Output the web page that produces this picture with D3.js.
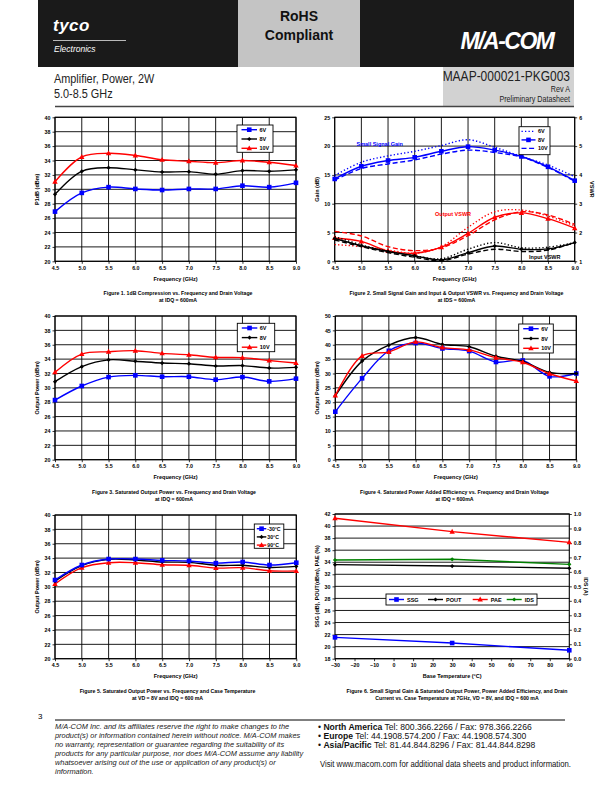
<!DOCTYPE html>
<html>
<head>
<meta charset="utf-8">
<script src="https://cdn.jsdelivr.net/npm/d3@7"></script>
<style>
body { margin: 0; background: #fff; }
</style>
</head>
<body>
<svg id="page" width="612" height="792"></svg>
<script>
// ---- data ----
var freqs = [4.5, 5.0, 5.5, 6.0, 6.5, 7.0, 7.5, 8.0, 8.5, 9.0]
var freqTicks = [4.5, 5.0, 5.5, 6.0, 6.5, 7.0, 7.5, 8.0, 8.5, 9.0]

var p1db6V = [26.9, 29.5, 30.3, 30.05, 29.9, 30.05, 30.05, 30.5, 30.3, 30.9]
var p1db8V = [29.3, 32.5, 33.0, 32.7, 32.4, 32.45, 32.1, 32.6, 32.5, 32.7]
var p1db10V = [31.05, 34.5, 35.0, 34.7, 34.1, 33.9, 33.7, 34.0, 33.75, 33.3]

var gain6V = [14.9, 17.2, 18.3, 19.1, 20.1, 21.1, 19.8, 18.2, 16.7, 14.7]
var gain8V = [14.3, 16.5, 17.5, 18.05, 19.1, 19.9, 19.3, 18.2, 16.4, 14.0]
var gain10V = [14.1, 16.1, 16.9, 17.6, 18.6, 19.3, 18.9, 18.1, 16.3, 13.9]
var outVswr6V = [1.58, 1.51, 1.39, 1.28, 1.51, 2.18, 2.72, 2.78, 2.57, 2.23]
var outVswr8V = [1.81, 1.69, 1.36, 1.28, 1.49, 1.97, 2.53, 2.68, 2.48, 2.15]
var outVswr10V = [2.04, 1.88, 1.51, 1.37, 1.47, 1.89, 2.44, 2.72, 2.61, 2.28]
var inVswr6V = [1.86, 1.57, 1.35, 1.19, 1.09, 1.42, 1.65, 1.47, 1.49, 1.65]
var inVswr8V = [1.79, 1.54, 1.34, 1.19, 1.05, 1.30, 1.53, 1.42, 1.43, 1.65]
var inVswr10V = [1.74, 1.51, 1.30, 1.14, 1.02, 1.25, 1.42, 1.34, 1.39, 1.65]

var psat6V = [28.3, 30.26, 31.5, 31.74, 31.55, 31.55, 31.14, 31.5, 30.9, 31.28]
var psat8V = [30.86, 32.95, 33.9, 33.7, 33.45, 33.36, 33.04, 33.1, 32.76, 32.85]
var psat10V = [32.16, 34.7, 35.03, 35.17, 34.8, 34.6, 34.25, 34.2, 33.8, 33.45]

var pae6V = [16.7, 28.3, 37.9, 40.6, 38.7, 37.8, 34.0, 34.5, 29.0, 30.0]
var pae8V = [22.2, 34.3, 39.9, 42.5, 40.1, 39.3, 36.0, 34.2, 30.4, 30.0]
var pae10V = [22.3, 36.1, 37.5, 41.0, 39.0, 38.2, 35.5, 33.9, 29.9, 27.4]

var psatMinus30C = [30.95, 33.04, 33.87, 33.87, 33.69, 33.6, 33.3, 33.46, 33.04, 33.36]
var psat30C = [30.8, 32.95, 33.83, 33.74, 33.46, 33.41, 33.0, 33.0, 32.7, 32.85]
var psat90C = [30.4, 32.67, 33.36, 33.36, 33.08, 33.0, 32.62, 32.67, 32.25, 32.2]

var temps = [-30, 30, 90]
var tempTicks = [-30, -20, -10, 0, 10, 20, 30, 40, 50, 60, 70, 80, 90]
var ssgT = [21.54, 20.6, 19.4]
var poutT = [33.6, 33.37, 33.0]
var paeT = [41.3, 39.07, 37.3]
var idsT = [0.682, 0.687, 0.652]

var ticks20to40 = [20, 22, 24, 26, 28, 30, 32, 34, 36, 38, 40]
var gainTicks = [0, 5, 10, 15, 20, 25]
var vswrTicks = [1, 2, 3, 4, 5, 6]
var paeTicks = [0, 5, 10, 15, 20, 25, 30, 35, 40, 45, 50]
var fig6Ticks = [18, 20, 22, 24, 26, 28, 30, 32, 34, 36, 38, 40, 42]
var idsTicks = [0, 0.1, 0.2, 0.3, 0.4, 0.5, 0.6, 0.7, 0.8, 0.9, 1.0]

var FONT = '"Liberation Sans", Arial, sans-serif'
var BLUE = '#0000ff', RED = '#ff0000', BLACK = '#000', GREEN = '#008000'

var page = d3.select('#page')

// condensed look for the title block (no narrow face installed)
function narrowText(str, x, y, size, anchor) {
	return page.append('text').text(str)
		.attr('transform', 'translate(' + x + ',' + y + ') scale(0.8,1)')
		.attr('text-anchor', anchor || 'start')
		.attr('font-family', FONT).attr('font-size', size).attr('fill', '#222')
}

// ---- header ----
page.append('rect').attr('x', 38).attr('y', 0).attr('width', 536).attr('height', 67).attr('fill', '#1a1a1a')
page.append('rect').attr('x', 238).attr('y', 0).attr('width', 122).attr('height', 67).attr('fill', '#c4c4c4')
page.append('text').text('tyco').attr('x', 53).attr('y', 31)
	.attr('font-family', FONT).attr('font-size', 17).attr('font-weight', 'bold').attr('font-style', 'italic')
	.attr('fill', '#fff').attr('letter-spacing', 0.5)
page.append('line').attr('x1', 53).attr('x2', 126).attr('y1', 40.5).attr('y2', 40.5).attr('stroke', '#fff').attr('stroke-width', 0.7)
page.append('text').text('Electronics').attr('x', 54).attr('y', 52)
	.attr('font-family', FONT).attr('font-size', 8.5).attr('font-style', 'italic').attr('fill', '#fff')
page.append('text').text('RoHS').attr('x', 299).attr('y', 21).attr('text-anchor', 'middle')
	.attr('font-family', FONT).attr('font-size', 14).attr('font-weight', 'bold').attr('fill', '#111')
page.append('text').text('Compliant').attr('x', 299).attr('y', 40).attr('text-anchor', 'middle')
	.attr('font-family', FONT).attr('font-size', 14).attr('font-weight', 'bold').attr('fill', '#111')
page.append('text').text('M/A-COM').attr('x', 507).attr('y', 49).attr('text-anchor', 'middle')
	.attr('font-family', FONT).attr('font-size', 23).attr('font-weight', 'bold').attr('font-style', 'italic')
	.attr('fill', '#fff').attr('letter-spacing', -1.5)

page.append('rect').attr('x', 443).attr('y', 67).attr('width', 131).attr('height', 39).attr('fill', '#d2d2d2')
narrowText('Amplifier, Power, 2W', 54, 82.5, 13.6)
narrowText('5.0-8.5 GHz', 54, 97.5, 13.6)
narrowText('MAAP-000021-PKG003', 570, 81, 15, 'end')
narrowText('Rev A', 570, 91.5, 9, 'end')
narrowText('Preliminary Datasheet', 570, 102, 9, 'end')
page.append('line').attr('x1', 55).attr('x2', 574).attr('y1', 106.5).attr('y2', 106.5).attr('stroke', '#444').attr('stroke-width', 1.5)

// ---- chart helpers ----
function marker(g, type, cx, cy, color) {
	if (type === 'square') {
		g.append('rect').attr('x', cx - 2.3).attr('y', cy - 2.3).attr('width', 4.6).attr('height', 4.6).attr('fill', color)
	} else if (type === 'tri') {
		g.append('path').attr('d', 'M' + cx + ',' + (cy - 2.9) + 'L' + (cx + 2.7) + ',' + (cy + 2) + 'L' + (cx - 2.7) + ',' + (cy + 2) + 'Z').attr('fill', color)
	} else if (type === 'diamond') {
		g.append('path').attr('d', 'M' + cx + ',' + (cy - 2.1) + 'L' + (cx + 2.1) + ',' + cy + 'L' + cx + ',' + (cy + 2.1) + 'L' + (cx - 2.1) + ',' + cy + 'Z').attr('fill', color)
	}
}

var DASH = {solid: null, dot: '1.3,2.2', dash: '5,2.6'}

function drawLegend(g, lg) {
	g.append('rect').attr('x', lg.x).attr('y', lg.y).attr('width', lg.w).attr('height', lg.h)
		.attr('fill', '#fff').attr('stroke', '#000').attr('stroke-width', 0.9)
	var pad = lg.pad || 4.5, len = lg.len || 15.5
	lg.items.forEach(function(it, i) {
		var cy, x1, x2, tx
		if (lg.horizontal) {
			cy = lg.y + lg.h / 2
			x1 = lg.x + lg.offsets[i]
			x2 = x1 + 15
			tx = x2 + 3
		} else {
			cy = lg.y + 4.7 + i * lg.row
			x1 = lg.x + pad
			x2 = x1 + len
			tx = x2 + (lg.gap || 2.5)
		}
		g.append('line').attr('x1', x1).attr('x2', x2).attr('y1', cy).attr('y2', cy)
			.attr('stroke', it.color).attr('stroke-width', 1.4).attr('stroke-dasharray', DASH[it.dash || 'solid'])
		if (it.marker) marker(g, it.marker, (x1 + x2) / 2, cy, it.color)
		g.append('text').text(it.label).attr('x', tx).attr('y', cy + 2)
			.attr('font-family', FONT).attr('font-size', lg.size || 5.5).attr('font-weight', 'bold')
	})
}

function drawChart(c) {
	var g = page.append('g')
	var x = d3.scaleLinear().domain(c.xDomain).range([c.left, c.right])
	var y = d3.scaleLinear().domain(c.yDomain).range([c.bottom, c.top])
	var y2 = c.y2Domain ? d3.scaleLinear().domain(c.y2Domain).range([c.bottom, c.top]) : null

	g.selectAll('line.hgrid').data(c.yTicks).enter().append('line')
		.attr('x1', c.left).attr('x2', c.right)
		.attr('y1', function(d) { return y(d) }).attr('y2', function(d) { return y(d) })
		.attr('stroke', '#000').attr('stroke-width', 0.9)
	if (c.vgrid) {
		g.selectAll('line.vgrid').data(c.xTicks).enter().append('line')
			.attr('y1', c.top).attr('y2', c.bottom)
			.attr('x1', function(d) { return x(d) }).attr('x2', function(d) { return x(d) })
			.attr('stroke', '#000').attr('stroke-width', 0.9)
	}
	g.append('rect').attr('x', c.left).attr('y', c.top).attr('width', c.right - c.left).attr('height', c.bottom - c.top)
		.attr('fill', 'none').attr('stroke', '#000').attr('stroke-width', 1.1)

	g.append('g').attr('transform', 'translate(0,' + c.bottom + ')')
		.call(d3.axisBottom(x).tickValues(c.xTicks).tickSize(2.5).tickPadding(2).tickFormat(c.xFormat))
	g.append('g').attr('transform', 'translate(' + c.left + ',0)')
		.call(d3.axisLeft(y).tickValues(c.yTicks).tickSize(2.5).tickPadding(2).tickFormat(c.yFormat))
	if (y2) {
		g.append('g').attr('transform', 'translate(' + c.right + ',0)')
			.call(d3.axisRight(y2).tickValues(c.y2Ticks).tickSize(2.5).tickPadding(2).tickFormat(c.y2Format))
	}
	g.selectAll('.domain').remove()
	g.selectAll('.tick line').attr('stroke', '#000').attr('stroke-width', 0.8)
	g.selectAll('.tick text').attr('font-family', FONT).attr('font-size', 5.3).attr('font-weight', 'bold').attr('fill', '#000')

	// series
	c.series.forEach(function(s) {
		var ys = s.right ? y2 : y
		var line = d3.line()
			.x(function(d, i) { return x(s.xs[i]) })
			.y(function(d) { return ys(d) })
			.curve(c.smooth ? d3.curveCatmullRom.alpha(0.5) : d3.curveLinear)
		g.append('path').datum(s.values).attr('d', line)
			.attr('fill', 'none').attr('stroke', s.color).attr('stroke-width', s.width || 1.4)
			.attr('stroke-dasharray', DASH[s.dash || 'solid'])
		if (s.marker) {
			s.values.forEach(function(v, i) { marker(g, s.marker, x(s.xs[i]), ys(v), s.color) })
		}
	})

	if (c.notes) {
		c.notes.forEach(function(n) {
			g.append('text').text(n.text).attr('x', n.x).attr('y', n.y)
				.attr('font-family', FONT).attr('font-size', 5.5).attr('font-weight', 'bold').attr('fill', n.color)
		})
	}
	if (c.legend) drawLegend(g, c.legend)

	var tstyle = function(t) { t.attr('font-family', FONT).attr('font-size', 5.5).attr('font-weight', 'bold') }
	g.append('text').text(c.xTitle).attr('x', (c.left + c.right) / 2).attr('y', c.bottom + 19.5)
		.attr('text-anchor', 'middle').call(tstyle)
	g.append('text').text(c.yTitle).attr('text-anchor', 'middle').call(tstyle)
		.attr('transform', 'translate(' + (c.left - 16) + ',' + ((c.top + c.bottom) / 2) + ') rotate(-90)')
	if (c.y2Title) {
		g.append('text').text(c.y2Title).attr('text-anchor', 'middle').call(tstyle)
			.attr('transform', 'translate(' + (c.right + 15) + ',' + ((c.top + c.bottom) / 2) + ') rotate(90)')
	}
	c.caption.forEach(function(line, i) {
		g.append('text').text(line).attr('x', c.captionX).attr('y', c.bottom + 34 + i * 7)
			.attr('text-anchor', 'middle').attr('font-family', FONT).attr('font-size', 5.2).attr('font-weight', 'bold')
	})
}

var f1 = d3.format('.1f'), f0 = d3.format('d')
var voltageLegend = [
	{label: '6V', color: BLUE, marker: 'square'},
	{label: '8V', color: BLACK, marker: 'diamond'},
	{label: '10V', color: RED, marker: 'tri'}
]

// Figure 1
drawChart({
	left: 55, right: 296, top: 117.3, bottom: 261.3,
	xDomain: [4.5, 9.0], yDomain: [20, 40], xTicks: freqTicks, yTicks: ticks20to40,
	xFormat: f1, yFormat: f0, vgrid: true, smooth: true,
	series: [
		{xs: freqs, values: p1db6V, color: BLUE, marker: 'square'},
		{xs: freqs, values: p1db8V, color: BLACK, marker: 'diamond'},
		{xs: freqs, values: p1db10V, color: RED, marker: 'tri'}
	],
	legend: {x: 237, y: 125, w: 36, h: 27.3, row: 9.3, items: voltageLegend},
	xTitle: 'Frequency (GHz)', yTitle: 'P1dB (dBm)',
	captionX: 178,
	caption: ['Figure 1. 1dB Compression vs. Frequency and Drain Voltage', 'at IDQ = 600mA']
})

// Figure 2
drawChart({
	left: 334.7, right: 574.7, top: 117.3, bottom: 261.3,
	xDomain: [4.5, 9.0], yDomain: [0, 25], y2Domain: [1, 6],
	xTicks: freqTicks, yTicks: gainTicks, y2Ticks: vswrTicks,
	xFormat: f1, yFormat: f0, y2Format: f0, vgrid: true, smooth: true,
	series: [
		{xs: freqs, values: gain6V, color: BLUE, dash: 'dot'},
		{xs: freqs, values: gain10V, color: BLUE, dash: 'dash'},
		{xs: freqs, values: gain8V, color: BLUE, marker: 'square'},
		{xs: freqs, values: outVswr6V, color: RED, dash: 'dot', right: true},
		{xs: freqs, values: outVswr10V, color: RED, dash: 'dash', right: true},
		{xs: freqs, values: outVswr8V, color: RED, marker: 'tri', right: true},
		{xs: freqs, values: inVswr6V, color: BLACK, dash: 'dot', right: true},
		{xs: freqs, values: inVswr10V, color: BLACK, dash: 'dash', right: true},
		{xs: freqs, values: inVswr8V, color: BLACK, marker: 'diamond', right: true}
	],
	notes: [
		{text: 'Small Signal Gain', x: 356.5, y: 146.3, color: BLUE},
		{text: 'Output VSWR', x: 435, y: 216, color: RED},
		{text: 'Input VSWR', x: 529, y: 258.6, color: BLACK}
	],
	legend: {x: 519, y: 126.7, w: 31, h: 28, row: 8.5, pad: 2.5, len: 14, items: [
		{label: '6V', color: BLUE, dash: 'dot'},
		{label: '8V', color: BLUE, marker: 'square'},
		{label: '10V', color: BLUE, dash: 'dash'}
	]},
	xTitle: 'Frequency (GHz)', yTitle: 'Gain (dB)', y2Title: 'VSWR',
	captionX: 456.5,
	caption: ['Figure 2. Small Signal Gain and Input & Output VSWR vs. Frequency and Drain Voltage', 'at IDS = 600mA']
})

// Figure 3
drawChart({
	left: 55, right: 296, top: 316, bottom: 459.7,
	xDomain: [4.5, 9.0], yDomain: [20, 40], xTicks: freqTicks, yTicks: ticks20to40,
	xFormat: f1, yFormat: f0, vgrid: true, smooth: true,
	series: [
		{xs: freqs, values: psat6V, color: BLUE, marker: 'square'},
		{xs: freqs, values: psat8V, color: BLACK, marker: 'diamond'},
		{xs: freqs, values: psat10V, color: RED, marker: 'tri'}
	],
	legend: {x: 237.3, y: 323.3, w: 37.4, h: 28.4, row: 9.6, items: voltageLegend},
	xTitle: 'Frequency (GHz)', yTitle: 'Output Power (dBm)',
	captionX: 174,
	caption: ['Figure 3. Saturated Output Power vs. Frequency and Drain Voltage', 'at IDQ = 600mA']
})

// Figure 4
drawChart({
	left: 335.3, right: 576.3, top: 316, bottom: 459.7,
	xDomain: [4.5, 9.0], yDomain: [0, 50], xTicks: freqTicks, yTicks: paeTicks,
	xFormat: f1, yFormat: f0, vgrid: true, smooth: true,
	series: [
		{xs: freqs, values: pae6V, color: BLUE, marker: 'square'},
		{xs: freqs, values: pae8V, color: BLACK, marker: 'diamond'},
		{xs: freqs, values: pae10V, color: RED, marker: 'tri'}
	],
	legend: {x: 518.7, y: 324, w: 34.6, h: 29, row: 9.8, items: voltageLegend},
	xTitle: 'Frequency (GHz)', yTitle: 'Output Power (dBm)',
	captionX: 454.5,
	caption: ['Figure 4. Saturated Power Added Efficiency vs. Frequency and Drain Voltage', 'at IDQ = 600mA']
})

// Figure 5
drawChart({
	left: 55, right: 296.3, top: 515, bottom: 658.7,
	xDomain: [4.5, 9.0], yDomain: [20, 40], xTicks: freqTicks, yTicks: ticks20to40,
	xFormat: f1, yFormat: f0, vgrid: true, smooth: true,
	series: [
		{xs: freqs, values: psat90C, color: RED, marker: 'tri'},
		{xs: freqs, values: psat30C, color: BLACK, marker: 'diamond'},
		{xs: freqs, values: psatMinus30C, color: BLUE, marker: 'square'}
	],
	legend: {x: 254.3, y: 524, w: 29.5, h: 24.3, row: 8.2, pad: 2.5, len: 9.5, gap: 1, size: 5.2, items: [
		{label: '-30°C', color: BLUE, marker: 'square'},
		{label: '30°C', color: BLACK, marker: 'diamond'},
		{label: '90°C', color: RED, marker: 'tri'}
	]},
	xTitle: 'Frequency (GHz)', yTitle: 'Output Power (dBm)',
	captionX: 167.5,
	caption: ['Figure 5. Saturated Output Power vs. Frequency and Case Temperature', 'at VD = 8V and IDQ = 600 mA']
})

// Figure 6
drawChart({
	left: 335, right: 569.3, top: 514, bottom: 658.7,
	xDomain: [-30, 90], yDomain: [18, 42], y2Domain: [0, 1],
	xTicks: tempTicks, yTicks: fig6Ticks, y2Ticks: idsTicks,
	xFormat: f0, yFormat: f0, y2Format: f1, vgrid: false, smooth: false,
	series: [
		{xs: temps, values: ssgT, color: BLUE, marker: 'square'},
		{xs: temps, values: poutT, color: BLACK, marker: 'diamond'},
		{xs: temps, values: paeT, color: RED, marker: 'tri'},
		{xs: temps, values: idsT, color: GREEN, marker: 'diamond', right: true}
	],
	legend: {x: 386, y: 594, w: 151, h: 11, horizontal: true, offsets: [3, 42, 86.7, 120.7], items: [
		{label: 'SSG', color: BLUE, marker: 'square'},
		{label: 'POUT', color: BLACK, marker: 'diamond'},
		{label: 'PAE', color: RED, marker: 'tri'},
		{label: 'IDS', color: GREEN, marker: 'diamond'}
	]},
	xTitle: 'Base Temperature (°C)', yTitle: 'SSG (dB), POUT(dBm), PAE (%)', y2Title: 'IDS (A)',
	captionX: 457,
	caption: ['Figure 6. Small Signal Gain & Saturated Output Power, Power Added Efficiency, and Drain',
		'Current vs. Case Temperature at 7GHz, VD = 8V, and IDQ = 600 mA']
})

// ---- footer ----
page.append('text').text('3').attr('x', 38).attr('y', 719).attr('font-family', FONT).attr('font-size', 8)
page.append('line').attr('x1', 55).attr('x2', 565).attr('y1', 720).attr('y2', 720).attr('stroke', '#000').attr('stroke-width', 1)

var disclaimer = [
	'M/A-COM Inc. and its affiliates reserve the right to make changes to the',
	'product(s) or information contained herein without notice. M/A-COM makes',
	'no warranty, representation or guarantee regarding the suitability of its',
	'products for any particular purpose, nor does M/A-COM assume any liability',
	'whatsoever arising out of the use or application of any product(s) or',
	'information.'
]
page.selectAll('text.disc').data(disclaimer).enter().append('text')
	.text(function(d) { return d })
	.attr('x', 55).attr('y', function(d, i) { return 729 + i * 9 })
	.attr('font-family', FONT).attr('font-size', 7.4).attr('font-style', 'italic').attr('fill', '#222')

var contacts = [
	['North America', 'Tel: 800.366.2266 / Fax: 978.366.2266'],
	['Europe', 'Tel: 44.1908.574.200 / Fax: 44.1908.574.300'],
	['Asia/Pacific', 'Tel: 81.44.844.8296 / Fax: 81.44.844.8298']
]
contacts.forEach(function(c, i) {
	var t = page.append('text').attr('x', 318).attr('y', 729.5 + i * 9)
		.attr('font-family', FONT).attr('font-size', 8.6).attr('fill', '#111')
	t.append('tspan').text('•  ')
	t.append('tspan').text(c[0]).attr('font-weight', 'bold')
	t.append('tspan').text('  ' + c[1])
})
page.append('text').text('Visit www.macom.com for additional data sheets and product information.')
	.attr('transform', 'translate(320,767) scale(0.88,1)')
	.attr('font-family', FONT).attr('font-size', 8.8).attr('fill', '#111')
</script>
</body>
</html>
